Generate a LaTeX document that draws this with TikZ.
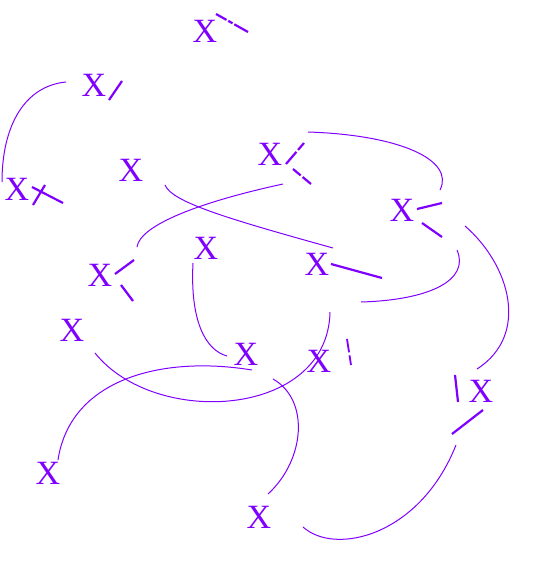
\documentclass[tikz,border=0pt]{standalone}
\usepackage{fontspec}
\setmainfont{Liberation Serif}
\definecolor{vio}{RGB}{127,0,255}
\begin{document}
\begin{tikzpicture}[x=1pt,y=-1pt,
  lab/.style={inner sep=0pt,text=vio,font=\fontsize{34}{34}\selectfont},
  link/.style={draw=vio,line width=1pt},
  tick/.style={draw=vio,line width=2.2pt}]
\useasboundingbox (0,0) rectangle (548,583);
% nodes
\node[lab] (n1) at (205,31) {X};
\node[lab] (n2) at (94,85) {X};
\node[lab] (n3) at (17,189) {X};
\node[lab] (n4) at (131,170) {X};
\node[lab] (n5) at (270,154) {X};
\node[lab] (n6) at (402,210) {X};
\node[lab] (n7) at (100,275) {X};
\node[lab] (n8) at (206,248) {X};
\node[lab] (n9) at (317,264) {X};
\node[lab] (n10) at (72,330) {X};
\node[lab] (n11) at (246,354) {X};
\node[lab] (n12) at (319,361) {X};
\node[lab] (n13) at (481,391) {X};
\node[lab] (n14) at (48,473) {X};
\node[lab] (n15) at (259,517) {X};
% curve end points
\coordinate (a0) at (66,82);   \coordinate (a1) at (2,182);
\coordinate (b0) at (165,185); \coordinate (b1) at (333,248);
\coordinate (c0) at (283,184); \coordinate (c1) at (137,247);
\coordinate (d0) at (308,132); \coordinate (d1) at (440,190);
\coordinate (e0) at (457,250); \coordinate (e1) at (361,302);
\coordinate (f0) at (465,226); \coordinate (f1) at (477,369);
\coordinate (g0) at (193,263); \coordinate (g1) at (227,356);
\coordinate (h0) at (95,353);  \coordinate (h1) at (330,312);
\coordinate (i0) at (252,370); \coordinate (i1) at (58,460);
\coordinate (j0) at (273,379); \coordinate (j1) at (268,494);
\coordinate (k0) at (303,527); \coordinate (k1) at (456,445);
% curves
\draw[link] (a0) .. controls (25,86) and (2,125) .. (a1);
\draw[link] (b0) .. controls (172,202) and (225,218) .. (b1);
\draw[link] (c0) .. controls (200,202) and (140,225) .. (c1);
\draw[link] (d0) .. controls (400,135) and (455,160) .. (d1);
\draw[link] (e0) .. controls (470,280) and (430,300) .. (e1);
\draw[link] (f0) .. controls (510,265) and (530,335) .. (f1);
\draw[link] (g0) .. controls (190,320) and (205,350) .. (g1);
\draw[link] (h0) .. controls (155,428) and (328,418) .. (h1);
\draw[link] (i0) .. controls (160,355) and (70,380) .. (i1);
\draw[link] (j0) .. controls (310,400) and (305,460) .. (j1);
\draw[link] (k0) .. controls (335,556) and (420,536) .. (k1);
% ticks
\coordinate (t1a) at (216,14);  \coordinate (t1b) at (248,32);
\draw[tick,dash pattern=on 12pt off 2pt on 5pt off 2pt on 30pt off 0pt] (t1a) -- (t1b);
\coordinate (t2a) at (109,100); \coordinate (t2b) at (122,81);
\draw[tick] (t2a) -- (t2b);
\coordinate (t3a) at (32,187);  \coordinate (t3b) at (63,203);
\coordinate (t3c) at (33,205);  \coordinate (t3d) at (45,185);
\draw[tick] (t3a) -- (t3b);
\draw[tick] (t3c) -- (t3d);
\coordinate (t5a) at (286,164); \coordinate (t5b) at (304,143);
\coordinate (t5c) at (293,169); \coordinate (t5d) at (311,184);
\draw[tick,dash pattern=on 16pt off 2.5pt on 30pt off 0pt] (t5a) -- (t5b);
\draw[tick,dash pattern=on 10pt off 2.5pt on 30pt off 0pt] (t5c) -- (t5d);
\coordinate (t6a) at (417,209); \coordinate (t6b) at (442,203);
\coordinate (t6c) at (422,223); \coordinate (t6d) at (442,237);
\draw[tick] (t6a) -- (t6b);
\draw[tick] (t6c) -- (t6d);
\coordinate (t7a) at (115,274); \coordinate (t7b) at (134,260);
\coordinate (t7c) at (121,285); \coordinate (t7d) at (133,301);
\draw[tick] (t7a) -- (t7b);
\draw[tick] (t7c) -- (t7d);
\coordinate (t9a) at (331,264); \coordinate (t9b) at (382,278);
\draw[tick] (t9a) -- (t9b);
\coordinate (t12a) at (347,339); \coordinate (t12b) at (351,365);
\draw[tick,line width=1.8pt,dash pattern=on 13.5pt off 3pt on 30pt off 0pt] (t12a) -- (t12b);
\coordinate (t13a) at (455,375); \coordinate (t13b) at (458,402);
\coordinate (t13c) at (483,410); \coordinate (t13d) at (452,434);
\draw[tick] (t13a) -- (t13b);
\draw[tick] (t13c) -- (t13d);
\end{tikzpicture}
\end{document}
